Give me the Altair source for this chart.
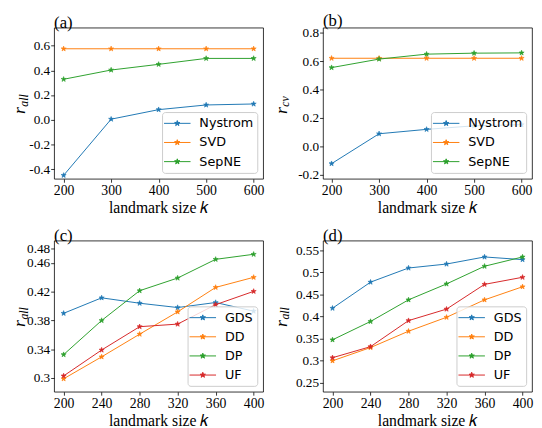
import altair as alt
import pandas as pd

# ---------------- data ----------------
k_ab = [200, 300, 400, 500, 600]
series_ab = ["Nystrom", "SVD", "SepNE"]
nystrom_a = [-0.45, 0.005, 0.082, 0.12, 0.128]
svd_a = [0.575, 0.575, 0.575, 0.575, 0.575]
sepne_a = [0.328, 0.403, 0.449, 0.497, 0.497]

nystrom_b = [-0.122, 0.089, 0.12, 0.145, 0.153]
svd_b = [0.622, 0.622, 0.622, 0.622, 0.622]
sepne_b = [0.556, 0.616, 0.651, 0.658, 0.660]

k_cd = [200, 240, 280, 320, 360, 400]
series_cd = ["GDS", "DD", "DP", "UF"]
gds_c = [0.390, 0.4115, 0.404, 0.398, 0.405, 0.393]
dd_c = [0.299, 0.3295, 0.361, 0.392, 0.426, 0.440]
dp_c = [0.3326, 0.380, 0.4214, 0.439, 0.465, 0.472]
uf_c = [0.303, 0.339, 0.3714, 0.375, 0.402, 0.4205]

gds_d = [0.419, 0.478, 0.510, 0.519, 0.535, 0.529]
dd_d = [0.300, 0.330, 0.367, 0.3985, 0.438, 0.4676]
dp_d = [0.3475, 0.389, 0.438, 0.474, 0.514, 0.535]
uf_d = [0.307, 0.332, 0.391, 0.417, 0.473, 0.489]

colors_ab = ["#1f77b4", "#ff7f0e", "#2ca02c"]
colors_cd = ["#1f77b4", "#ff7f0e", "#2ca02c", "#d62728"]

STAR = ("M0,-1L0.235,-0.324L0.951,-0.309L0.38,0.124L0.588,0.809L0,0.4"
        "L-0.588,0.809L-0.38,0.124L-0.951,-0.309L-0.235,-0.324Z")
# legend symbol: a line from -2 to 2 with a small star in the middle
LEG = ("M-2,0L2,0M0,-0.42L0.099,-0.136L0.4,-0.13L0.16,0.052L0.247,0.34"
       "L0,0.168L-0.247,0.34L-0.16,0.052L-0.4,-0.13L-0.099,-0.136Z")

SERIF = "Liberation Serif"
W, H = 213, 154


def frame(ks, names, cols):
    rows = []
    for name, vals in zip(names, cols):
        for k, v in zip(ks, vals):
            rows.append({"k": k, "v": v, "s": name})
    return pd.DataFrame(rows)


def panel(df, series, colors, xdom, xticks, ydom, yticks, ylabelexpr,
          tag, sub, rx):
    cscale = alt.Scale(domain=series, range=colors)
    legend = alt.Legend(
        title=None, orient="bottom-right", offset=6,
        fillColor="rgba(255,255,255,0.8)", strokeColor="#cccccc",
        cornerRadius=3, padding=4, labelFont="DejaVu Sans",
        labelFontSize=13, labelColor="black", symbolType=LEG,
        symbolSize=182, symbolStrokeWidth=1, rowPadding=4.5,
        symbolOffset=4, labelOffset=15,
    )
    x = alt.X("k:Q", scale=alt.Scale(domain=xdom, nice=False, zero=False),
              axis=alt.Axis(values=xticks, format="d",
                            title="landmark size 𝑘"))
    y = alt.Y("v:Q", scale=alt.Scale(domain=ydom, nice=False, zero=False),
              axis=alt.Axis(values=yticks, labelExpr=ylabelexpr, title=None,
                            labelFontSize=13.5, labelPadding=1))
    base = alt.Chart(df).encode(x=x, y=y)
    line = base.mark_line(strokeWidth=1).encode(
        color=alt.Color("s:N", scale=cscale, legend=legend),
    )
    pts = base.mark_point(shape=STAR, filled=True, size=30, strokeWidth=0.6,
                          opacity=1).encode(
        color=alt.Color("s:N", scale=cscale, legend=legend),
        stroke=alt.Stroke("s:N", scale=cscale, legend=legend),
    )
    rtxt = alt.Chart(pd.DataFrame({"t": ["r"]})).mark_text(
        font=SERIF, fontStyle="italic", fontSize=18, angle=270,
        align="left", baseline="alphabetic", color="black",
    ).encode(text="t:N", x=alt.value(rx), y=alt.value(88))
    stxt = alt.Chart(pd.DataFrame({"t": [sub]})).mark_text(
        font=SERIF, fontStyle="italic", fontSize=12, angle=270,
        align="left", baseline="alphabetic", color="black",
    ).encode(text="t:N", x=alt.value(rx + 2.5), y=alt.value(80.5))
    return alt.layer(line, pts, rtxt, stxt).properties(
        width=W, height=H,
        title=alt.TitleParams(tag, anchor="start", frame="group",
                              fontSize=17, font=SERIF, fontWeight="normal",
                              offset=-4, color="black"),
    )


neg1 = ("datum.value < 0 ? '-' + format(-datum.value, '.1f') "
        ": format(datum.value, '.1f')")
two = "format(datum.value, '.2~f')"

pa = panel(frame(k_ab, series_ab, [nystrom_a, svd_a, sepne_a]), series_ab,
           colors_ab, [180, 620], k_ab, [-0.478, 0.746],
           [-0.4, -0.2, 0.0, 0.2, 0.4, 0.6], neg1, "(a)", "all", -29.5)
pb = panel(frame(k_ab, series_ab, [nystrom_b, svd_b, sepne_b]), series_ab,
           colors_ab, [182, 622], k_ab, [-0.229, 0.838],
           [-0.2, 0.0, 0.2, 0.4, 0.6, 0.8], neg1, "(b)", "cv", -37)
pc = panel(frame(k_cd, series_cd, [gds_c, dd_c, dp_c, uf_c]), series_cd,
           colors_cd, [190, 410], k_cd, [0.281, 0.491],
           [0.3, 0.34, 0.38, 0.42, 0.46, 0.48], two, "(c)", "all", -29.5)
pd_ = panel(frame(k_cd, series_cd, [gds_d, dd_d, dp_d, uf_d]), series_cd,
            colors_cd, [190, 410], k_cd, [0.23, 0.572],
            [0.25, 0.3, 0.35, 0.4, 0.45, 0.5, 0.55], two, "(d)", "all", -37)

chart = alt.ConcatChart(
    concat=[pa, pb, pc, pd_], columns=2,
    spacing=alt.RowColnumber(row=63, column=61), bounds="flush",
).resolve_scale(color="independent", stroke="independent").configure(
    padding={"left": 3, "top": 0, "right": 0, "bottom": 0},
).configure_axis(
    labelFont=SERIF, labelFontSize=14, labelColor="black",
    tickColor="black", tickSize=3.5, tickWidth=0.8, domain=False,
    grid=False, titleFont=SERIF, titleFontSize=16, titleFontWeight="normal",
    titleColor="black", titlePadding=2, labelPadding=2,
).configure_view(stroke="black", strokeWidth=0.8)

chart.save("out.html", embed_options={"renderer": "svg", "actions": False})
